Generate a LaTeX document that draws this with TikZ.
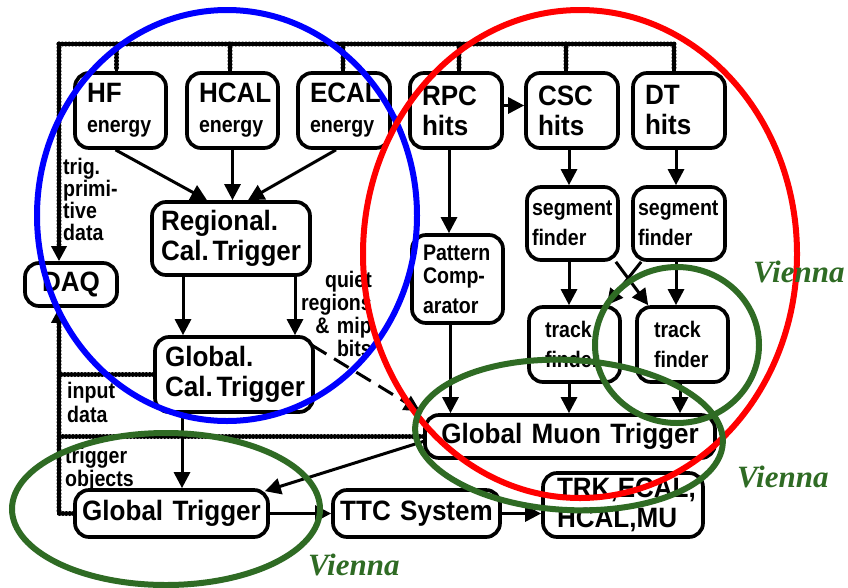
\documentclass[tikz,border=0pt]{standalone}
\usepackage{fontspec}
\setmainfont{Liberation Sans}
\newfontfamily\bxfamily{Liberation Sans Bold}[FakeStretch=0.93]
\newfontfamily\sxfamily{Liberation Sans Bold}[FakeStretch=0.87]
\newfontfamily\vnfamily{Liberation Serif Bold Italic}
\newcommand\bxfont{\bxfamily\fontsize{28pt}{30pt}\selectfont}
\newcommand\sxfont{\sxfamily\fontsize{22.5pt}{23pt}\selectfont}
\newcommand\caltrig{\mbox{Cal.\hspace{4pt}Trigger}}
\usetikzlibrary{arrows.meta}
\definecolor{viennagreen}{RGB}{47,107,36}

\tikzset{
  box/.style={draw, line width=3.7pt, rounded corners=14pt, fill=white,
    align=left, inner ysep=0pt, font=\bxfont},
  cbox/.style={box, align=center, inner xsep=0pt},
  arr/.style={line width=3pt, -{Triangle[length=16pt,width=16pt]}},
  dashedarr/.style={arr, dash pattern=on 17pt off 9pt},
  beads/.style={draw, line width=5pt, dash pattern=on 0pt off 3.4pt, line cap=round, arrows=-},
  dotbus/.style={line width=3.4pt, postaction={beads}},
  dotarr/.style={line width=3.4pt, -{Triangle[length=15pt,width=15pt]},
    postaction={beads, shorten >=15pt}},
  lbl/.style={inner sep=0pt, align=left},
  ring/.style={line width=6pt},
  vienna/.style={font=\vnfamily\fontsize{31pt}{31pt}\selectfont,
    text=viennagreen, inner sep=0pt, anchor=base west},
}

\begin{document}
\begin{tikzpicture}[x=1pt, y=-1pt]
\fill[white] (0,0) rectangle (848,587);
\useasboundingbox (0,0) rectangle (848,587);

% calorimeter branch
\node[box, text width=67pt, inner xsep=12pt, minimum height=75pt] (hf) at (120.5,110.5) {HF\\\sxfont energy};
\node[box, text width=67pt, inner xsep=12pt, minimum height=75pt] (hcal) at (232.5,110.5) {HCAL\\\sxfont energy};
\node[box, text width=68pt, inner xsep=12pt, minimum height=75pt] (ecal) at (344,110.5) {ECAL\\\sxfont energy};
\node[box, text width=140pt, inner xsep=9pt, minimum height=73pt] (reg) at (231,238.5) {Regional.\\\caltrig};
\node[box, text width=138pt, inner xsep=10pt, minimum height=75pt] (gct) at (234,374.5) {Global.\\\caltrig};
\node[cbox, text width=92pt, minimum height=43pt] (daq) at (71,284.5) {DAQ};

% muon branch
\node[box, text width=68pt, inner xsep=12pt, minimum height=75pt] (rpc) at (456,110.5) {RPC\\hits};
\node[box, text width=68pt, inner xsep=12pt, minimum height=75pt] (csc) at (572,110.5) {CSC\\hits};
\node[box, text width=68pt, inner xsep=12pt, minimum height=75pt] (dt) at (679,110.5) {DT\\hits};
\node[box, text width=69pt, inner xsep=11pt, minimum height=88pt] (pat) at (457.5,279) {\sxfont Pattern\\Comp-\\arator};
\node[box, text width=81pt, inner xsep=5pt, minimum height=73pt] (segl) at (572.5,223.5) {\sxfont segment\\finder};
\node[box, text width=82pt, inner xsep=5pt, minimum height=73pt] (segr) at (679,223.5) {\sxfont segment\\finder};
\node[box, text width=59pt, inner xsep=16pt, minimum height=75pt] (trkl) at (574.5,344.5) {\sxfont track\\finder};
\node[box, text width=57pt, inner xsep=17pt, minimum height=75pt] (trkr) at (682.5,344.5) {\sxfont track\\finder};
\node[cbox, text width=290pt, minimum height=43pt] (gmt) at (570,436.5) {Global Muon Trigger};

% global level
\node[cbox, text width=193pt, minimum height=47pt] (gt) at (171.5,513.5) {Global Trigger};
\node[cbox, text width=167pt, minimum height=47pt] (ttc) at (416.5,513.5) {TTC System};
\node[box, text width=132pt, inner xsep=14pt, minimum height=64pt] (trk) at (623,505) {TRK,ECAL,\\HCAL,MU};

% readout bus
\coordinate (busl) at (59,44);
\coordinate (busr) at (674,44);
\draw[dotbus] (busl) -- (busr);
\draw[dotarr] (busl) -- (busl |- daq.north);
\draw[dotbus] ([xshift=-4pt]hf.north |- busl) -- ([xshift=-4pt]hf.north);
\draw[dotbus] ([xshift=-2.5pt]hcal.north |- busl) -- ([xshift=-2.5pt]hcal.north);
\draw[dotbus] ([xshift=-1pt]ecal.north |- busl) -- ([xshift=-1pt]ecal.north);
\draw[dotbus] ([xshift=3pt]rpc.north |- busl) -- ([xshift=3pt]rpc.north);
\draw[dotbus] ([xshift=-6pt]csc.north |- busl) -- ([xshift=-6pt]csc.north);
\draw[dotbus] ([xshift=-5pt]dt.north |- busl) -- ([xshift=-5pt]dt.north);
\draw[dotarr] (gt.west) -| (busl |- daq.south);
\draw[dotbus] (gct.west) -- (gct.west -| busl);
\draw[dotbus] (gmt.west) -- (gmt.west -| busl);

% calorimeter trigger flow
\draw[arr] ([xshift=-5pt]hf.south) -- ([xshift=-24pt]reg.north);
\draw[arr] (hcal.south) -- (hcal.south |- reg.north);
\draw[arr] ([xshift=-8pt]ecal.south) -- ([xshift=17pt]reg.north);
\draw[arr] ([xshift=-48pt]reg.south) -- ([xshift=-48pt]reg.south |- gct.north);
\draw[arr] ([xshift=64pt]reg.south) -- ([xshift=64pt]reg.south |- gct.north);
\draw[arr] ([xshift=-52pt]gct.south) -- ([xshift=-52pt]gct.south |- gt.north);
\draw[dashedarr] ([xshift=-3pt,yshift=-10pt]gct.north east) -- ([xshift=-3pt,yshift=2pt]gmt.north west);

% muon trigger flow
\draw[arr] ([yshift=5pt]rpc.east) -- ([yshift=5pt]csc.west);
\draw[arr] ([xshift=-7pt]rpc.south) -- ([xshift=-7pt]rpc.south |- pat.north);
\draw[arr] ([xshift=-7pt]pat.south) -- ([xshift=-7pt]pat.south |- gmt.north);
\draw[arr] ([xshift=-3pt]csc.south) -- ([xshift=-3pt]csc.south |- segl.north);
\draw[arr] ([xshift=-3pt]dt.south) -- ([xshift=-3pt]dt.south |- segr.north);
\draw[arr] ([xshift=-3.5pt]segl.south) -- ([xshift=-3.5pt]segl.south |- trkl.north);
\draw[arr] ([xshift=-3pt]segr.south) -- ([xshift=-3pt]segr.south |- trkr.north);
\draw[arr] ([xshift=-4pt]segl.south east) -- ([xshift=13pt]trkr.north west);
\draw[arr] ([xshift=10pt]segr.south west) -- ([xshift=-15pt]trkl.north east);
\draw[arr] ([xshift=-5.5pt]trkl.south) -- ([xshift=-5.5pt]trkl.south |- gmt.north);
\draw[arr] ([xshift=-2.5pt]trkr.south) -- ([xshift=-2.5pt]trkr.south |- gmt.north);

% global trigger outputs
\draw[arr] ([yshift=-5pt]gmt.west) -- ([xshift=-5pt,yshift=-3pt]gt.north east);
\draw[arr] (gt.east) -- (ttc.west);
\draw[arr] (ttc.east) -- (ttc.east -| trk.west);

% side labels
\node[lbl, font=\sxfamily\fontsize{22.5pt}{22pt}\selectfont, text width=60pt, anchor=north west] (tpd) at (63,158) {trig.\\primi-\\tive\\data};
\node[lbl, font=\sxfamily\fontsize{22.5pt}{24pt}\selectfont, text width=60pt, anchor=north west] (ind) at (67,382) {input\\data};
\node[lbl, font=\sxfont, text width=80pt, anchor=north west] (tob) at (65,447) {trigger\\objects};
\node[lbl, font=\sxfont, text width=80pt, align=right, anchor=north east] (qrb) at (372,271) {quiet\\regions\\\& mip\\bits};

% responsibility rings
\draw[ring, blue] (227,215.5) ellipse [x radius=190pt, y radius=205.5pt];
\draw[ring, red] (580,254) ellipse [x radius=217pt, y radius=244pt];
\draw[ring, viennagreen] (677,345) ellipse [x radius=82pt, y radius=78pt];
\draw[ring, viennagreen, rotate around={-3:(569,435)}] (569,435) ellipse [x radius=154pt, y radius=75pt];
\draw[ring, viennagreen] (166,509) ellipse [x radius=154pt, y radius=76pt];

\node[vienna] (v1) at (753,282) {Vienna};
\node[vienna] (v2) at (737,487) {Vienna};
\node[vienna] (v3) at (308,575) {Vienna};
\end{tikzpicture}
\end{document}
